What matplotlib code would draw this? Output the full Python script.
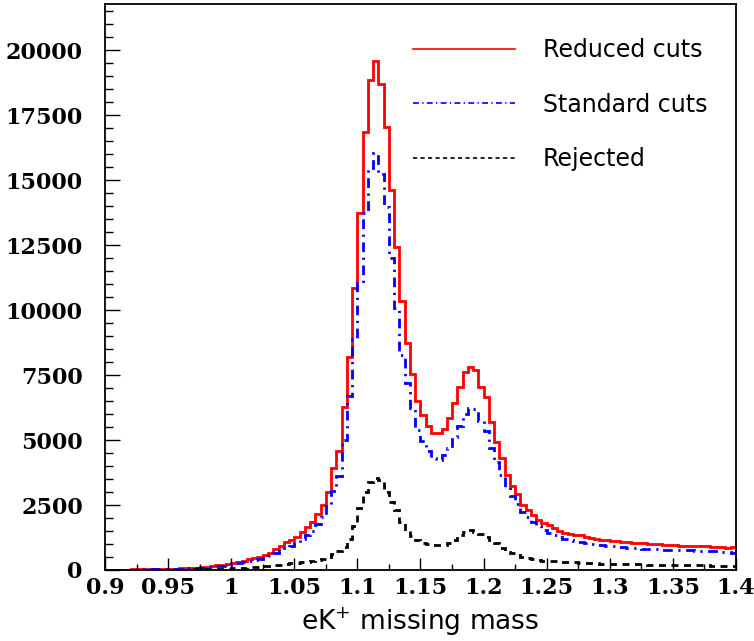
import numpy as np
import matplotlib
matplotlib.use("Agg")
import matplotlib.pyplot as plt
from matplotlib.lines import Line2D
from matplotlib.ticker import MultipleLocator, FuncFormatter

# histogram range / binning (120 bins between 0.9 and 1.4)
x_min, x_max, n_bins = 0.9, 1.4, 120

reduced = [
    10, 10, 10, 15, 15, 20, 20, 25, 30, 35,
    40, 40, 50, 55, 65, 70, 80, 90, 105, 125,
    150, 180, 205, 235, 280, 320, 360, 410, 460, 515,
    580, 665, 795, 925, 1090, 1150, 1270, 1480, 1640, 1840,
    2170, 2500, 3010, 3910, 4590, 6280, 8180, 10870, 13720, 16860,
    18850, 19590, 18720, 17050, 14640, 12440, 10350, 8720, 7550, 6500,
    5950, 5540, 5280, 5280, 5410, 5860, 6410, 7030, 7630, 7800,
    7690, 7050, 6670, 5710, 4940, 4300, 3650, 3230, 2920, 2500,
    2310, 2115, 1925, 1820, 1730, 1600, 1515, 1435, 1385, 1350,
    1345, 1280, 1245, 1205, 1155, 1150, 1115, 1130, 1090, 1085,
    1050, 1025, 1030, 1000, 1000, 995, 960, 965, 955, 935,
    940, 930, 920, 925, 915, 900, 895, 895, 835, 870,
]

standard = [
    8, 8, 8, 12, 12, 16, 16, 20, 25, 28,
    32, 33, 40, 45, 52, 57, 65, 73, 85, 100,
    120, 145, 165, 190, 225, 260, 290, 330, 370, 415,
    470, 540, 640, 750, 880, 940, 1040, 1200, 1330, 1500,
    1780, 2050, 2450, 3050, 3600, 5000, 6700, 8900, 11030, 13720,
    15450, 16050, 15220, 13970, 11990, 10100, 8270, 7200, 6250, 5400,
    4950, 4560, 4300, 4250, 4420, 4700, 5100, 5550, 6000, 6250,
    6200, 5750, 5350, 4700, 4150, 3650, 3200, 2850, 2550, 2250,
    2050, 1850, 1680, 1540, 1440, 1350, 1280, 1190, 1140, 1100,
    1060, 1040, 1010, 975, 955, 935, 905, 895, 870, 860,
    840, 830, 820, 810, 800, 795, 785, 775, 770, 765,
    760, 755, 748, 742, 735, 728, 715, 705, 690, 645,
]

rejected = [
    0, 0, 0, 0, 0, 5, 5, 5, 5, 5,
    8, 8, 10, 10, 12, 15, 18, 20, 25, 30,
    35, 40, 45, 55, 65, 75, 85, 100, 115, 130,
    145, 160, 180, 200, 225, 255, 280, 300, 320, 350,
    390, 430, 500, 600, 750, 880, 1200, 1700, 2400, 3000,
    3400, 3550, 3450, 3000, 2600, 2300, 1850, 1500, 1290, 1150,
    1050, 1000, 965, 960, 970, 1050, 1160, 1350, 1480, 1530,
    1480, 1400, 1280, 1150, 1050, 850, 680, 640, 580, 515,
    460, 410, 375, 350, 345, 340, 325, 320, 315, 290,
    280, 265, 258, 255, 250, 238, 232, 230, 228, 222,
    218, 215, 212, 200, 195, 192, 192, 192, 190, 190,
    188, 182, 180, 180, 178, 170, 168, 167, 165, 165,
]

labels = ["Reduced cuts", "Standard cuts", "Rejected"]
colors = ["#ff0000", "#0000ff", "#000000"]
styles = ["-", (0, (3.5, 2, 0.8, 2)), (0, (2.5, 2))]

edges = np.linspace(x_min, x_max, n_bins + 1)

fig = plt.figure(figsize=(7.54, 6.41), dpi=100)
W, H = 754, 641
ax = fig.add_axes([105 / W, 1 - 570 / H, (736 - 105) / W, (570 - 4) / H])

for vals, c, ls in zip([reduced, standard, rejected], colors, styles):
    ax.stairs(vals, edges, color=c, linestyle=ls, linewidth=2.0, baseline=None)

ax.set_xlim(x_min, x_max)
ax.set_ylim(0, 21780)

ax.xaxis.set_major_locator(MultipleLocator(0.05))
ax.xaxis.set_minor_locator(MultipleLocator(0.025))
ax.yaxis.set_major_locator(MultipleLocator(2500))
ax.yaxis.set_minor_locator(MultipleLocator(500))
ax.xaxis.set_major_formatter(FuncFormatter(lambda v, p: "%g" % round(v, 3)))
ax.yaxis.set_major_formatter(FuncFormatter(lambda v, p: "%d" % v))

for lab in ax.get_xticklabels() + ax.get_yticklabels():
    lab.set_fontfamily("DejaVu Serif")
    lab.set_fontweight("bold")
    lab.set_fontsize(16)

ax.tick_params(axis="x", which="major", direction="in", length=9, width=1, pad=5)
ax.tick_params(axis="x", which="minor", direction="in", length=4.5, width=1)
ax.tick_params(axis="y", which="major", direction="in", length=11, width=1, pad=16)
ax.tick_params(axis="y", which="minor", direction="in", length=5.5, width=1)
for s in ax.spines.values():
    s.set_linewidth(1.3)

ax.set_xlabel("eK$^{+}$ missing mass", fontsize=19, family="DejaVu Sans", labelpad=5)

handles = [Line2D([], [], color=c, linestyle=ls, linewidth=1.2)
           for c, ls in zip(colors, styles)]
ax.legend(handles, labels, loc="upper left",
          bbox_to_anchor=(413 / W, 1 - 38 / H), bbox_transform=fig.transFigure,
          frameon=False, fontsize=17, handlelength=4.3, handletextpad=1.2,
          labelspacing=1.3, borderpad=0, borderaxespad=0)

fig.savefig("out.png", dpi=100)
